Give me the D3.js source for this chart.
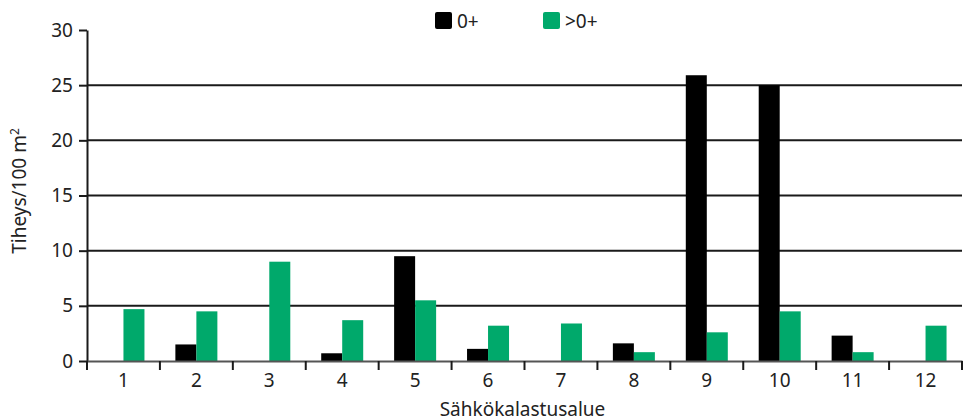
<!DOCTYPE html>
<meta charset="utf-8">
<style>
body { margin: 0; background: #fff; }
text { font-family: "Noto Sans", "Open Sans", sans-serif; fill: #222; }
.grid line { stroke: #1a1a1a; stroke-width: 2px; }
</style>
<svg width="965" height="419"></svg>
<script src="https://d3js.org/d3.v7.min.js"></script>
<script>

var categories = ["1", "2", "3", "4", "5", "6", "7", "8", "9", "10", "11", "12"];
var series = ["0+", ">0+"];
var values0 = [0, 1.5, 0, 0.7, 9.5, 1.1, 0, 1.6, 25.9, 25.0, 2.3, 0];
var values1 = [4.7, 4.5, 9.0, 3.7, 5.5, 3.2, 3.4, 0.8, 2.6, 4.5, 0.8, 3.2];
var yTicks = [0, 5, 10, 15, 20, 25, 30];
var colors = ["#000000", "#00a96b"];

var svg = d3.select("svg"),
    margin = {top: 30, right: 3, bottom: 58, left: 87},
    width = +svg.attr("width") - margin.left - margin.right,
    height = +svg.attr("height") - margin.top - margin.bottom;

var g = svg.append("g")
    .attr("transform", "translate(" + margin.left + "," + margin.top + ")");

var x = d3.scaleBand()
    .domain(categories)
    .range([0, 875])
    .padding(0);

var x1 = d3.scaleBand()
    .domain(series)
    .range([0, 42]);

var y = d3.scaleLinear()
    .domain([0, 30])
    .range([331, 0]);

// gridlines
g.append("g")
    .attr("class", "grid")
    .selectAll("line")
    .data(yTicks.filter(function(d) { return d > 0 && d < 30; }))
    .enter().append("line")
    .attr("x1", 0)
    .attr("x2", x.range()[1])
    .attr("y1", y)
    .attr("y2", y);

// bars
var data = categories.map(function(c, i) {
    return {cat: c, vals: [values0[i], values1[i]]};
});

var groups = g.selectAll(".grp")
    .data(data)
    .enter().append("g")
    .attr("transform", function(d) {
        return "translate(" + (x(d.cat) + x.bandwidth() / 2 - 21) + ",0)";
    });

groups.selectAll("rect")
    .data(function(d) { return d.vals.map(function(v, j) { return {s: series[j], v: v, j: j}; }); })
    .enter().append("rect")
    .attr("x", function(d) { return x1(d.s); })
    .attr("width", x1.bandwidth())
    .attr("y", function(d) { return y(d.v); })
    .attr("height", function(d) { return y(0) - y(d.v); })
    .attr("fill", function(d) { return colors[d.j]; });

// y axis
var yAxis = g.append("g")
    .call(d3.axisLeft(y).tickValues(yTicks).tickSize(8).tickPadding(6).tickSizeOuter(0));
yAxis.select(".domain").attr("stroke", "#1a1a1a").attr("stroke-width", 2);
yAxis.selectAll(".tick line").attr("stroke", "#1a1a1a").attr("stroke-width", 2);
yAxis.selectAll("text").style("font-size", "19px").attr("fill", "#222");

// x axis
var xAxis = g.append("g")
    .attr("transform", "translate(0," + y(0) + ")")
    .call(d3.axisBottom(x).tickSize(0).tickPadding(13).tickSizeOuter(0));
xAxis.select(".domain").attr("stroke", "#555").attr("stroke-width", 2);
xAxis.selectAll("text").style("font-size", "19px").attr("fill", "#222");

g.append("g")
    .attr("transform", "translate(0," + y(0) + ")")
    .selectAll("line")
    .data(categories.concat(["end"]))
    .enter().append("line")
    .attr("x1", function(d, i) { return i < categories.length ? x(d) : x.range()[1]; })
    .attr("x2", function(d, i) { return i < categories.length ? x(d) : x.range()[1]; })
    .attr("y1", 0)
    .attr("y2", 9)
    .attr("stroke", "#1a1a1a")
    .attr("stroke-width", 2);

// axis titles
svg.append("text")
    .attr("x", margin.left + 875 / 2 - 2)
    .attr("y", 416)
    .attr("text-anchor", "middle")
    .style("font-size", "19px")
    .text("Sähkökalastusalue");

var yt = svg.append("text")
    .attr("transform", "translate(26," + (margin.top + 161) + ") rotate(-90)")
    .attr("text-anchor", "middle")
    .style("font-size", "19px");
yt.append("tspan").text("Tiheys/100 m");
yt.append("tspan").attr("dy", -7).style("font-size", "12px").text("2");

// legend
var legend = svg.append("g");
var legX = [435, 543];
series.forEach(function(s, i) {
    legend.append("rect")
        .attr("x", legX[i])
        .attr("y", 12)
        .attr("width", 17)
        .attr("height", 17)
        .attr("rx", 2)
        .attr("fill", colors[i]);
    legend.append("text")
        .attr("x", legX[i] + 22)
        .attr("y", 28)
        .style("font-size", "19px")
        .text(s);
});

</script>
